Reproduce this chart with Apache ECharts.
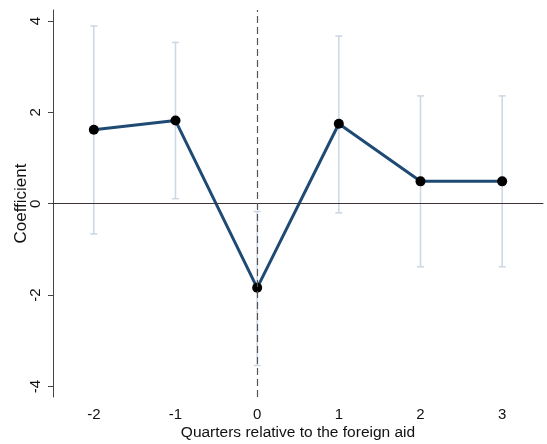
<!DOCTYPE html>
<html>
<head>
<meta charset="utf-8">
<script src="https://cdn.jsdelivr.net/npm/echarts@6/dist/echarts.min.js"></script>
<style>
  html, body { margin: 0; padding: 0; background: #fff; }
  #chart { width: 547px; height: 444px; }
</style>
</head>
<body>
<div id="chart"></div>
<script>
// Event-study coefficients with 95% confidence intervals
const quarters = ['-2', '-1', '0', '1', '2', '3'];
const coefficients = [1.62, 1.82, -1.84, 1.75, 0.49, 0.49];
const ciUpper = [3.89, 3.53, -0.17, 3.67, 2.36, 2.36];
const ciLower = [-0.66, 0.11, -3.54, -0.20, -1.38, -1.38];
const yTicks = [-4, -2, 0, 2, 4];

const ciData = quarters.map((q, i) => [i, ciLower[i], ciUpper[i]]);

const chart = echarts.init(document.getElementById('chart'), null, { renderer: 'canvas' });

const font = '"Liberation Sans", Arial, Helvetica, sans-serif';

chart.setOption({
  animation: false,
  backgroundColor: '#ffffff',
  grid: { left: 53, right: 4, top: 10, bottom: 47, containLabel: false, outerBoundsMode: 'none' },
  xAxis: {
    type: 'category',
    data: quarters,
    boundaryGap: true,
    name: 'Quarters relative to the foreign aid',
    nameLocation: 'middle',
    nameGap: 28,
    nameMoveOverlap: false,
    nameTextStyle: { fontFamily: font, fontSize: 15.5, color: '#111' },
    axisLine: { lineStyle: { color: '#444', width: 1 } },
    axisTick: { alignWithLabel: true, length: 5, lineStyle: { color: '#444' } },
    axisLabel: { fontFamily: font, fontSize: 15, color: '#111', margin: 10 },
    splitLine: { show: false }
  },
  yAxis: {
    type: 'value',
    min: -4.23,
    max: 4.24,
    name: 'Coefficient',
    nameLocation: 'middle',
    nameRotate: 90,
    nameGap: 23,
    nameMoveOverlap: false,
    nameTextStyle: { fontFamily: font, fontSize: 17, color: '#111' },
    axisLine: { show: true, lineStyle: { color: '#444', width: 1 } },
    axisTick: { show: true, length: 5, customValues: yTicks, lineStyle: { color: '#444' } },
    axisLabel: { fontFamily: font, fontSize: 15, color: '#111', rotate: 90, margin: 10, customValues: yTicks },
    splitLine: { show: false }
  },
  series: [
    {
      // confidence intervals with end caps
      type: 'custom',
      z: 2,
      data: ciData,
      renderItem: function (params, api) {
        const x = api.value(0);
        const lo = api.coord([x, api.value(1)]);
        const hi = api.coord([x, api.value(2)]);
        const cap = 3.5;
        const style = { stroke: '#cbd7e3', lineWidth: 1.5 };
        return {
          type: 'group',
          children: [
            { type: 'line', shape: { x1: lo[0], y1: lo[1], x2: hi[0], y2: hi[1] }, style: style },
            { type: 'line', shape: { x1: lo[0] - cap, y1: lo[1], x2: lo[0] + cap, y2: lo[1] }, style: style },
            { type: 'line', shape: { x1: hi[0] - cap, y1: hi[1], x2: hi[0] + cap, y2: hi[1] }, style: style }
          ]
        };
      }
    },
    {
      type: 'line',
      z: 3,
      data: coefficients,
      symbol: 'circle',
      symbolSize: 10,
      itemStyle: { color: '#000000' },
      lineStyle: { color: '#1f4a73', width: 3 },
      markLine: {
        silent: true,
        symbol: 'none',
        label: { show: false },
        data: [
          { yAxis: 0, lineStyle: { color: '#3d3535', width: 1.2, type: 'solid' } },
          { xAxis: '0', lineStyle: { color: '#555', width: 1.2, type: [7, 4] } }
        ]
      }
    }
  ]
});
</script>
</body>
</html>
